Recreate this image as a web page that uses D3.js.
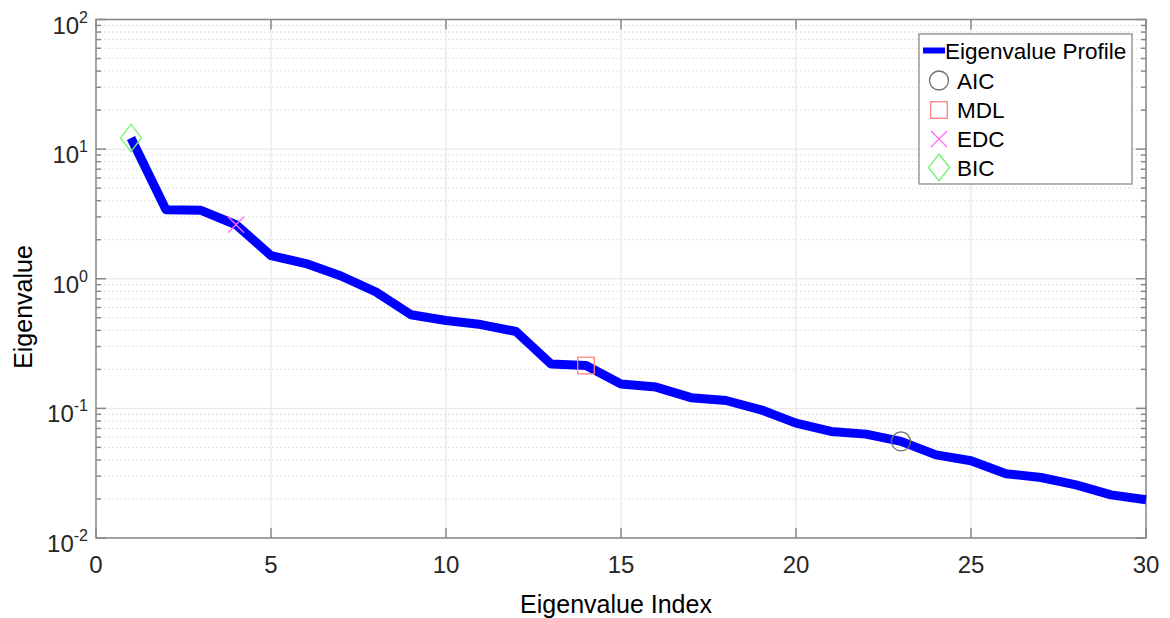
<!DOCTYPE html>
<html>
<head>
<meta charset="utf-8">
<script src="https://cdn.jsdelivr.net/npm/d3@7"></script>
<style>
  body { margin: 0; background: #fff; }
  svg { font-family: "Liberation Sans", Arial, sans-serif; }
</style>
</head>
<body>
<svg id="chart"></svg>
<script>
// Eigenvalue profile
const indices = d3.range(1, 31);
const eigenvalues = [12.2, 3.41, 3.37, 2.61, 1.51, 1.31, 1.05, 0.79, 0.527, 0.476,
  0.443, 0.392, 0.22, 0.214, 0.154, 0.146, 0.121, 0.115, 0.0975, 0.077,
  0.0664, 0.0633, 0.0556, 0.0438, 0.0394, 0.0313, 0.0293, 0.0257, 0.0215, 0.0197];

// Order selected by each criterion
const criteria = ["AIC", "MDL", "EDC", "BIC"];
const selectedIndex = [23, 14, 4, 1];

const xTicks = [0, 5, 10, 15, 20, 25, 30];
const yTicks = [0.01, 0.1, 1, 10, 100];
const yExponents = ["-2", "-1", "0", "1", "2"];

const width = 1170;
const height = 618;
const margin = { left: 96, right: 24, top: 19.5, bottom: 80 };

const markerStyle = {
  AIC: { symbol: "circle", color: "#6e6e6e" },
  MDL: { symbol: "square", color: "#ff8282" },
  EDC: { symbol: "cross", color: "#ff6cff" },
  BIC: { symbol: "diamond", color: "#6cf56c" }
};

const svg = d3.select("#chart")
  .attr("width", width)
  .attr("height", height);

const x = d3.scaleLinear().domain([0, 30]).range([margin.left, width - margin.right]);
const y = d3.scaleLog().domain([0.01, 100]).range([height - margin.bottom, margin.top]);

const [x0, x1] = x.range();
const [y0, y1] = y.range();

// minor grid (dotted)
const minorVals = [];
[0.01, 0.1, 1, 10].forEach(d => { for (let k = 2; k <= 9; k++) minorVals.push(d * k); });
svg.append("g").selectAll("line")
  .data(minorVals)
  .enter().append("line")
  .attr("x1", x0).attr("x2", x1)
  .attr("y1", d => y(d)).attr("y2", d => y(d))
  .attr("stroke", "#d8d8d8")
  .attr("stroke-width", 1)
  .attr("stroke-dasharray", "1.5,2.5");

// major grid
svg.append("g").selectAll("line")
  .data(yTicks)
  .enter().append("line")
  .attr("x1", x0).attr("x2", x1)
  .attr("y1", d => y(d)).attr("y2", d => y(d))
  .attr("stroke", "#ebebeb")
  .attr("stroke-width", 1.5);
svg.append("g").selectAll("line")
  .data(xTicks)
  .enter().append("line")
  .attr("x1", d => x(d)).attr("x2", d => x(d))
  .attr("y1", y0).attr("y2", y1)
  .attr("stroke", "#ebebeb")
  .attr("stroke-width", 1.5);

// axes box
const axisColor = "#8a8a8a";
svg.append("rect")
  .attr("x", x0).attr("y", y1)
  .attr("width", x1 - x0).attr("height", y0 - y1)
  .attr("fill", "none")
  .attr("stroke", axisColor)
  .attr("stroke-width", 1.5);

// ticks pointing inward (bottom/top, left/right)
const tickG = svg.append("g").attr("stroke", axisColor).attr("stroke-width", 1.5);
xTicks.forEach(d => {
  tickG.append("line").attr("x1", x(d)).attr("x2", x(d)).attr("y1", y0).attr("y2", y0 - 10);
  tickG.append("line").attr("x1", x(d)).attr("x2", x(d)).attr("y1", y1).attr("y2", y1 + 10);
});
yTicks.forEach(d => {
  tickG.append("line").attr("x1", x0).attr("x2", x0 + 10).attr("y1", y(d)).attr("y2", y(d));
  tickG.append("line").attr("x1", x1).attr("x2", x1 - 10).attr("y1", y(d)).attr("y2", y(d));
});
minorVals.forEach(d => {
  tickG.append("line").attr("x1", x0).attr("x2", x0 + 5).attr("y1", y(d)).attr("y2", y(d));
  tickG.append("line").attr("x1", x1).attr("x2", x1 - 5).attr("y1", y(d)).attr("y2", y(d));
});

// tick labels
svg.append("g").selectAll("text")
  .data(xTicks)
  .enter().append("text")
  .attr("x", d => x(d))
  .attr("y", y0 + 35)
  .attr("text-anchor", "middle")
  .attr("font-size", 24)
  .attr("fill", "#262626")
  .text(d => d);

const yLab = svg.append("g").selectAll("text")
  .data(yTicks)
  .enter().append("text")
  .attr("x", 88)
  .attr("y", d => y(d) + 14)
  .attr("text-anchor", "end")
  .attr("font-size", 24)
  .attr("fill", "#262626");
yLab.append("tspan").text("10");
yLab.append("tspan")
  .attr("dy", -11)
  .attr("font-size", 16)
  .text((d, i) => yExponents[i]);

// axis titles
svg.append("text")
  .attr("x", (x0 + x1) / 2 - 5)
  .attr("y", 613)
  .attr("text-anchor", "middle")
  .attr("font-size", 25)
  .attr("fill", "#000")
  .text("Eigenvalue Index");

svg.append("text")
  .attr("transform", "translate(32,307) rotate(-90)")
  .attr("text-anchor", "middle")
  .attr("font-size", 25)
  .attr("fill", "#000")
  .text("Eigenvalue");

// profile line
const line = d3.line()
  .x((d, i) => x(indices[i]))
  .y(d => y(d));

svg.append("path")
  .datum(eigenvalues)
  .attr("d", line)
  .attr("fill", "none")
  .attr("stroke", "#0000ff")
  .attr("stroke-width", 9)
  .attr("stroke-linejoin", "round");

// marker shapes
function drawMarker(g, name, cx, cy) {
  const s = markerStyle[name];
  const common = el => el.attr("fill", "none").attr("stroke", s.color).attr("stroke-width", 1.3);
  if (s.symbol === "circle") {
    common(g.append("circle").attr("cx", cx).attr("cy", cy).attr("r", 9.5));
  } else if (s.symbol === "square") {
    common(g.append("rect").attr("x", cx - 8.3).attr("y", cy - 8.3).attr("width", 16.6).attr("height", 16.6));
  } else if (s.symbol === "cross") {
    common(g.append("path").attr("d", `M${cx - 8},${cy - 8}L${cx + 8},${cy + 8}M${cx - 8},${cy + 8}L${cx + 8},${cy - 8}`));
  } else if (s.symbol === "diamond") {
    common(g.append("path").attr("d", `M${cx},${cy - 13.5}L${cx + 10.5},${cy}L${cx},${cy + 13.5}L${cx - 10.5},${cy}Z`));
  }
}

const markerG = svg.append("g");
criteria.forEach((c, i) => {
  const k = selectedIndex[i];
  drawMarker(markerG, c, x(k), y(eigenvalues[k - 1]));
});

// legend
const legend = svg.append("g");
legend.append("rect")
  .attr("x", 919).attr("y", 34)
  .attr("width", 213).attr("height", 150)
  .attr("fill", "#fff")
  .attr("stroke", "#8a8a8a")
  .attr("stroke-width", 1.3);

const rowY = [50.5, 80.5, 110, 139, 167.5];
legend.append("line")
  .attr("x1", 923).attr("x2", 945)
  .attr("y1", rowY[0]).attr("y2", rowY[0])
  .attr("stroke", "#0000ff")
  .attr("stroke-width", 6);
legend.append("text")
  .attr("x", 945).attr("y", rowY[0] + 8)
  .attr("font-size", 22.5)
  .attr("fill", "#000")
  .text("Eigenvalue Profile");

criteria.forEach((c, i) => {
  const cy = rowY[i + 1];
  drawMarker(legend, c, 939, cy);
  legend.append("text")
    .attr("x", 957).attr("y", cy + 8)
    .attr("font-size", 22.5)
    .attr("fill", "#000")
    .text(c);
});
</script>
</body>
</html>
